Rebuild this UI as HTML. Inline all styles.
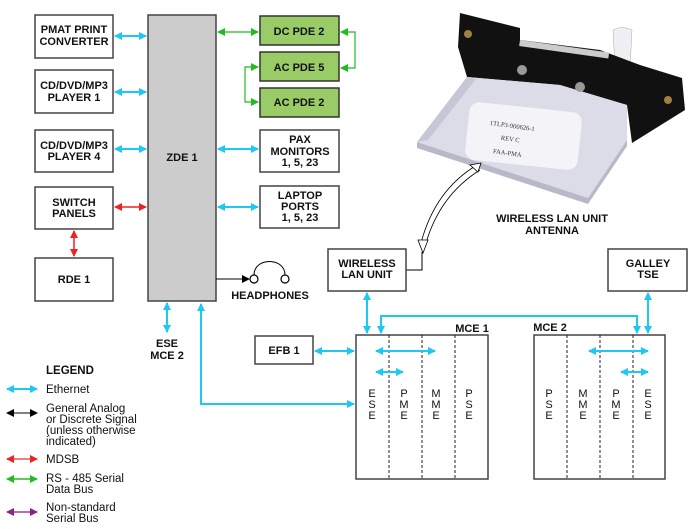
<!DOCTYPE html>
<html><head><meta charset="utf-8"><style>
html,body{margin:0;padding:0;background:#fff;}
svg{display:block;font-family:"Liberation Sans",Arial,sans-serif;}
.b{font-weight:bold;font-size:11px;fill:#111;text-anchor:middle;}
.l{font-size:11.5px;fill:#111;}
.box{fill:#fff;stroke:#444;stroke-width:1.5;}
.g{fill:#99cc66;stroke:#333;stroke-width:1.5;}
.c{stroke:#1ec8f5;stroke-width:2;fill:none;}
.let{font-size:11px;fill:#111;text-anchor:middle;}
</style></head><body>
<svg width="700" height="529" viewBox="0 0 700 529" xmlns="http://www.w3.org/2000/svg">
<defs>
<marker id="mc" markerWidth="8" markerHeight="8" refX="7" refY="4" orient="auto-start-reverse" markerUnits="userSpaceOnUse"><path d="M0,0 L8,4 L0,8 z" fill="#1ec8f5"/></marker>
<marker id="mr" markerWidth="8" markerHeight="8" refX="7" refY="4" orient="auto-start-reverse" markerUnits="userSpaceOnUse"><path d="M0,0 L8,4 L0,8 z" fill="#ee2222"/></marker>
<marker id="mg" markerWidth="8" markerHeight="8" refX="7" refY="4" orient="auto-start-reverse" markerUnits="userSpaceOnUse"><path d="M0,0 L8,4 L0,8 z" fill="#22bb22"/></marker>
<marker id="mk" markerWidth="8" markerHeight="8" refX="7" refY="4" orient="auto-start-reverse" markerUnits="userSpaceOnUse"><path d="M0,0 L8,4 L0,8 z" fill="#000"/></marker>
<marker id="mp" markerWidth="8" markerHeight="8" refX="7" refY="4" orient="auto-start-reverse" markerUnits="userSpaceOnUse"><path d="M0,0 L8,4 L0,8 z" fill="#882288"/></marker>
</defs>

<!-- photo -->
<path d="M613,30 Q622,25 632,30 L630,68 L615,66 Z" fill="#f0f0f4" stroke="#aaa" stroke-width="0.5"/>
<polygon points="460,13 520,28 520,40 600,50 640,65 682,78 685,110 632,143 627,105 560,85 467,77 458,47" fill="#111"/>
<rect x="520" y="40" width="90" height="6" fill="#ccc" transform="rotate(8 520 40)"/>
<polygon points="467,77 560,85 627,105 627,140 588,198 417,142" fill="#dcdce8"/>
<polygon points="417,142 588,198 627,140 627,146 588,204 417,148" fill="#b8b8c8"/>
<polygon points="417,142 467,77 476,79 428,140" fill="#c6c6d6"/>
<rect x="467" y="107" width="113" height="58" rx="10" fill="#f4f4f8" transform="rotate(6 523 136)"/>
<text x="512" y="128" font-family="Liberation Serif,serif" font-size="6.5" fill="#333" transform="rotate(8 512 128)" text-anchor="middle">1TLP3-900626-1</text>
<text x="510" y="141" font-family="Liberation Serif,serif" font-size="6.5" fill="#333" transform="rotate(8 510 141)" text-anchor="middle">REV C</text>
<text x="507" y="155" font-family="Liberation Serif,serif" font-size="6.5" fill="#333" transform="rotate(8 507 155)" text-anchor="middle">FAA-PMA</text>
<circle cx="522" cy="70" r="5" fill="#999"/><circle cx="580" cy="87" r="5" fill="#999"/>
<circle cx="468" cy="34" r="4" fill="#a08040"/><circle cx="668" cy="100" r="4" fill="#a08040"/>
<text class="b" x="552" y="222">WIRELESS LAN UNIT</text>
<text class="b" x="552" y="234">ANTENNA</text>
<!-- curved double-line arrow -->
<path d="M421,243 Q435,190 477,165" fill="none" stroke="#000" stroke-width="0.8"/>
<path d="M426,243 Q440,195 480,170" fill="none" stroke="#000" stroke-width="0.8"/>
<polygon points="481,163 470,165 478,172" fill="#fff" stroke="#000" stroke-width="0.8"/>
<polygon points="418,240 428,240 423,253" fill="#fff" stroke="#000" stroke-width="0.8"/>
<polyline points="406,270 422,270 422,252" fill="none" stroke="#000" stroke-width="1"/>

<!-- left boxes -->
<rect class="box" x="35" y="15" width="78" height="43"/>
<text class="b" x="74" y="33">PMAT PRINT</text><text class="b" x="74" y="45">CONVERTER</text>
<rect class="box" x="35" y="70" width="78" height="43"/>
<text class="b" x="74" y="89">CD/DVD/MP3</text><text class="b" x="74" y="101">PLAYER 1</text>
<rect class="box" x="35" y="130" width="78" height="42"/>
<text class="b" x="74" y="149">CD/DVD/MP3</text><text class="b" x="74" y="160">PLAYER 4</text>
<rect class="box" x="35" y="187" width="78" height="42"/>
<text class="b" x="74" y="206">SWITCH</text><text class="b" x="74" y="217">PANELS</text>
<rect class="box" x="35" y="258" width="78" height="43"/>
<text class="b" x="74" y="283">RDE 1</text>

<rect x="148" y="15" width="68" height="286" fill="#cccccc" stroke="#444" stroke-width="1.5"/>
<text class="b" x="182" y="161">ZDE 1</text>

<rect class="g" x="260" y="16" width="79" height="29"/><text class="b" x="299" y="35">DC PDE 2</text>
<rect class="g" x="260" y="52" width="79" height="29"/><text class="b" x="299" y="71">AC PDE 5</text>
<rect class="g" x="260" y="88" width="79" height="29"/><text class="b" x="299" y="106">AC PDE 2</text>
<rect class="box" x="260" y="130" width="79" height="42"/>
<text class="b" x="300" y="143">PAX</text><text class="b" x="300" y="155">MONITORS</text><text class="b" x="300" y="166">1, 5, 23</text>
<rect class="box" x="260" y="186" width="79" height="42"/>
<text class="b" x="300" y="199">LAPTOP</text><text class="b" x="300" y="210">PORTS</text><text class="b" x="300" y="221">1, 5, 23</text>

<!-- connectors -->
<line class="c" x1="115" y1="36" x2="146" y2="36" marker-start="url(#mc)" marker-end="url(#mc)"/>
<line class="c" x1="115" y1="92" x2="146" y2="92" marker-start="url(#mc)" marker-end="url(#mc)"/>
<line class="c" x1="115" y1="149" x2="146" y2="149" marker-start="url(#mc)" marker-end="url(#mc)"/>
<line x1="115" y1="207" x2="146" y2="207" stroke="#ee2222" stroke-width="1.5" marker-start="url(#mr)" marker-end="url(#mr)"/>
<line x1="74" y1="231" x2="74" y2="256" stroke="#ee2222" stroke-width="1.5" marker-start="url(#mr)" marker-end="url(#mr)"/>
<line x1="218" y1="32" x2="258" y2="32" stroke="#22bb22" stroke-width="1.2" marker-start="url(#mg)" marker-end="url(#mg)"/>
<polyline points="341,32 355,32 355,68 341,68" fill="none" stroke="#22bb22" stroke-width="1.2" marker-start="url(#mg)" marker-end="url(#mg)"/>
<polyline points="258,67 245,67 245,102 258,102" fill="none" stroke="#22bb22" stroke-width="1.2" marker-start="url(#mg)" marker-end="url(#mg)"/>
<line class="c" x1="218" y1="149" x2="258" y2="149" marker-start="url(#mc)" marker-end="url(#mc)"/>
<line class="c" x1="218" y1="207" x2="258" y2="207" marker-start="url(#mc)" marker-end="url(#mc)"/>

<line x1="216" y1="279" x2="249" y2="279" stroke="#000" stroke-width="1" marker-end="url(#mk)"/>
<circle cx="254" cy="279" r="4" fill="#fff" stroke="#000" stroke-width="1.2"/>
<circle cx="285" cy="279" r="4" fill="#fff" stroke="#000" stroke-width="1.2"/>
<path d="M254,275 C254,257 285,257 285,275" fill="none" stroke="#000" stroke-width="1"/>
<text class="b" x="270" y="299">HEADPHONES</text>

<line class="c" x1="167" y1="303" x2="167" y2="332" marker-start="url(#mc)" marker-end="url(#mc)"/>
<text class="b" x="167" y="347">ESE</text><text class="b" x="167" y="359">MCE 2</text>
<polyline class="c" points="354,404 201,404 201,304" marker-start="url(#mc)" marker-end="url(#mc)"/>

<!-- right part -->
<rect class="box" x="328" y="249" width="78" height="42"/>
<text class="b" x="367" y="267">WIRELESS</text><text class="b" x="367" y="278">LAN UNIT</text>
<rect class="box" x="608" y="249" width="79" height="42"/>
<text class="b" x="648" y="267">GALLEY</text><text class="b" x="648" y="278">TSE</text>
<rect class="box" x="255" y="336" width="58" height="28"/>
<text class="b" x="284" y="354">EFB 1</text>

<rect class="box" x="356" y="335" width="132" height="144"/>
<rect class="box" x="534" y="335" width="131" height="144"/>
<g stroke="#222" stroke-width="1" stroke-dasharray="3,2">
<line x1="389" y1="335" x2="389" y2="479"/><line x1="422" y1="335" x2="422" y2="479"/><line x1="455" y1="335" x2="455" y2="479"/>
<line x1="567" y1="335" x2="567" y2="479"/><line x1="600" y1="335" x2="600" y2="479"/><line x1="633" y1="335" x2="633" y2="479"/>
</g>
<text class="b" x="472" y="332">MCE 1</text>
<text class="b" x="550" y="331">MCE 2</text>

<line class="c" x1="367" y1="293" x2="367" y2="333" marker-start="url(#mc)" marker-end="url(#mc)"/>
<line class="c" x1="648" y1="293" x2="648" y2="333" marker-start="url(#mc)" marker-end="url(#mc)"/>
<polyline class="c" points="381,333 381,316 637,316 637,333" marker-start="url(#mc)" marker-end="url(#mc)"/>
<line class="c" x1="315" y1="351" x2="354" y2="351" marker-start="url(#mc)" marker-end="url(#mc)"/>
<line class="c" x1="376" y1="351" x2="435" y2="351" marker-start="url(#mc)" marker-end="url(#mc)"/>
<line class="c" x1="376" y1="372" x2="403" y2="372" marker-start="url(#mc)" marker-end="url(#mc)"/>
<line class="c" x1="589" y1="351" x2="648" y2="351" marker-start="url(#mc)" marker-end="url(#mc)"/>
<line class="c" x1="621" y1="372" x2="648" y2="372" marker-start="url(#mc)" marker-end="url(#mc)"/>

<g class="let">
<text x="372" y="397">E</text><text x="372" y="408">S</text><text x="372" y="419">E</text>
<text x="404" y="397">P</text><text x="404" y="408">M</text><text x="404" y="419">E</text>
<text x="436" y="397">M</text><text x="436" y="408">M</text><text x="436" y="419">E</text>
<text x="469" y="397">P</text><text x="469" y="408">S</text><text x="469" y="419">E</text>
<text x="549" y="397">P</text><text x="549" y="408">S</text><text x="549" y="419">E</text>
<text x="583" y="397">M</text><text x="583" y="408">M</text><text x="583" y="419">E</text>
<text x="616" y="397">P</text><text x="616" y="408">M</text><text x="616" y="419">E</text>
<text x="648" y="397">E</text><text x="648" y="408">S</text><text x="648" y="419">E</text>
</g>

<!-- legend -->
<text x="46" y="374" font-weight="bold" font-size="11.5" fill="#111">LEGEND</text>
<line class="c" x1="7" y1="389" x2="37" y2="389" marker-start="url(#mc)" marker-end="url(#mc)"/>
<text class="l" x="46" y="393">Ethernet</text>
<line x1="7" y1="413" x2="37" y2="413" stroke="#000" stroke-width="1" marker-start="url(#mk)" marker-end="url(#mk)"/>
<text class="l" x="46" y="412">General Analog</text>
<text class="l" x="46" y="423">or Discrete Signal</text>
<text class="l" x="46" y="434">(unless otherwise</text>
<text class="l" x="46" y="445">indicated)</text>
<line x1="7" y1="459" x2="37" y2="459" stroke="#ee5555" stroke-width="1.5" marker-start="url(#mr)" marker-end="url(#mr)"/>
<text class="l" x="46" y="463">MDSB</text>
<line x1="7" y1="479" x2="37" y2="479" stroke="#22bb22" stroke-width="1.5" marker-start="url(#mg)" marker-end="url(#mg)"/>
<text class="l" x="46" y="482">RS - 485 Serial</text>
<text class="l" x="46" y="493">Data Bus</text>
<line x1="7" y1="512" x2="37" y2="512" stroke="#994499" stroke-width="1.5" marker-start="url(#mp)" marker-end="url(#mp)"/>
<text class="l" x="46" y="511">Non-standard</text>
<text class="l" x="46" y="522">Serial Bus</text>
</svg>
</body></html>
